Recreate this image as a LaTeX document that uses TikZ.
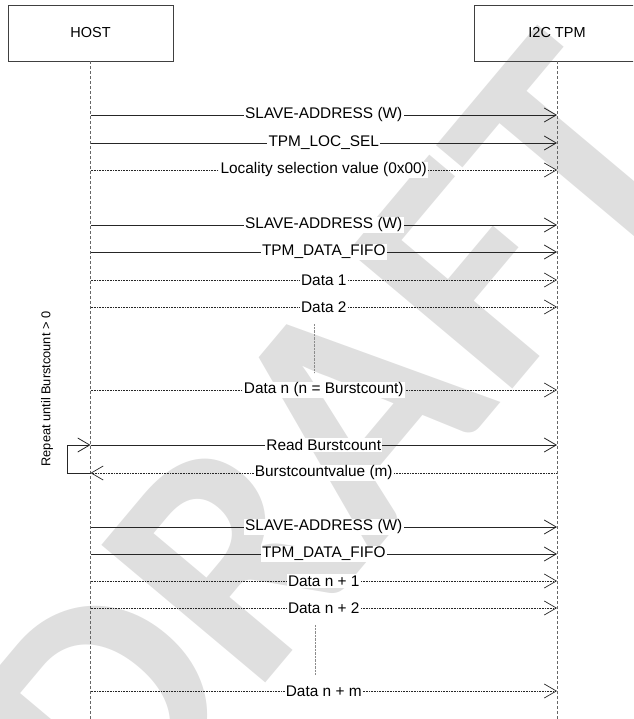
\documentclass[tikz,border=0pt]{standalone}
\usepackage{fontspec}
\setmainfont{Liberation Sans}
\newfontfamily\markfont{Carlito}
\usetikzlibrary{positioning, arrows.meta, calc}

\tikzset{
  party/.style={draw=black!75, line width=0.8pt, minimum width=165pt, minimum height=56pt,
    inner sep=0pt, font=\fontsize{14.5}{17}\selectfont},
  lifeline/.style={draw=black!60, line width=0.8pt, dash pattern=on 3pt off 2pt},
  msg/.style={draw=black!85, line width=0.8pt, -{Straight Barb[length=12pt,width=14pt]}},
  datamsg/.style={msg, line width=0.7pt, dash pattern=on 1pt off 0.6pt},
  replymsg/.style={draw=black!85, line width=0.7pt, dash pattern=on 1pt off 0.6pt,
    {Straight Barb[length=12pt,width=14pt]}-},
  msglabel/.style={fill=white, inner sep=1.2pt, font=\fontsize{15.4}{18}\selectfont},
  gapline/.style={draw=black!45, line width=0.7pt, dash pattern=on 0.8pt off 0.6pt},
  watermark/.style={text=gray!25, font=\markfont\bfseries\fontsize{330}{330}\selectfont, inner sep=0pt}
}

\begin{document}
\begin{tikzpicture}[x=1pt, y=-1pt]
  \clip (0,0) rectangle (633,719);

  % watermark behind everything
  \node[watermark, rotate=50] (draft) at (330,440) {DRAFT};

  % participants
  \node[party] (host) at (90.5,33) {HOST};
  \node[party] (tpm) at (557,33) {I2C TPM};
  \coordinate (hostend) at (host.south |- 0,719);
  \coordinate (tpmend) at (tpm.south |- 0,719);
  \draw[lifeline] (host.south) -- (hostend);
  \draw[lifeline] (tpm.south) -- (tpmend);

  % messages
  \foreach \y/\txt/\kind [count=\i] in {
      115/SLAVE-ADDRESS (W)/msg,
      143/TPM\_LOC\_SEL/msg,
      170/Locality selection value (0x00)/datamsg,
      225/SLAVE-ADDRESS (W)/msg,
      252/TPM\_DATA\_FIFO/msg,
      280/Data 1/datamsg,
      307/Data 2/datamsg,
      390/Data n (n = Burstcount)/datamsg,
      445/Read Burstcount/msg,
      473/Burstcountvalue (m)/replymsg,
      527/SLAVE-ADDRESS (W)/msg,
      554/TPM\_DATA\_FIFO/msg,
      581/Data n + 1/datamsg,
      608/Data n + 2/datamsg,
      691/Data n + m/datamsg} {
    \coordinate (h\i) at (host.south |- 0,\y);
    \coordinate (t\i) at (tpm.south |- 0,\y);
    \draw[\kind] (h\i) -- node[msglabel] (lab\i) {\txt} (t\i);
  }

  % gaps between data transfers
  \coordinate (gapAtop) at (314,324);
  \coordinate (gapAbot) at (314,373);
  \coordinate (gapBtop) at (315,625);
  \coordinate (gapBbot) at (315,675);
  \draw[gapline] (gapAtop) -- (gapAbot);
  \draw[gapline] (gapBtop) -- (gapBbot);

  % repeat loop
  \coordinate (loopbot) at (67,473);
  \coordinate (looptop) at (67,445);
  \draw[msg] (h10) -- (loopbot) -- (looptop) -- (h9);
  \node[rotate=90, font=\fontsize{12.8}{15}\selectfont] (repeat) at (47,389)
    {Repeat until Burstcount > 0};
\end{tikzpicture}
\end{document}
